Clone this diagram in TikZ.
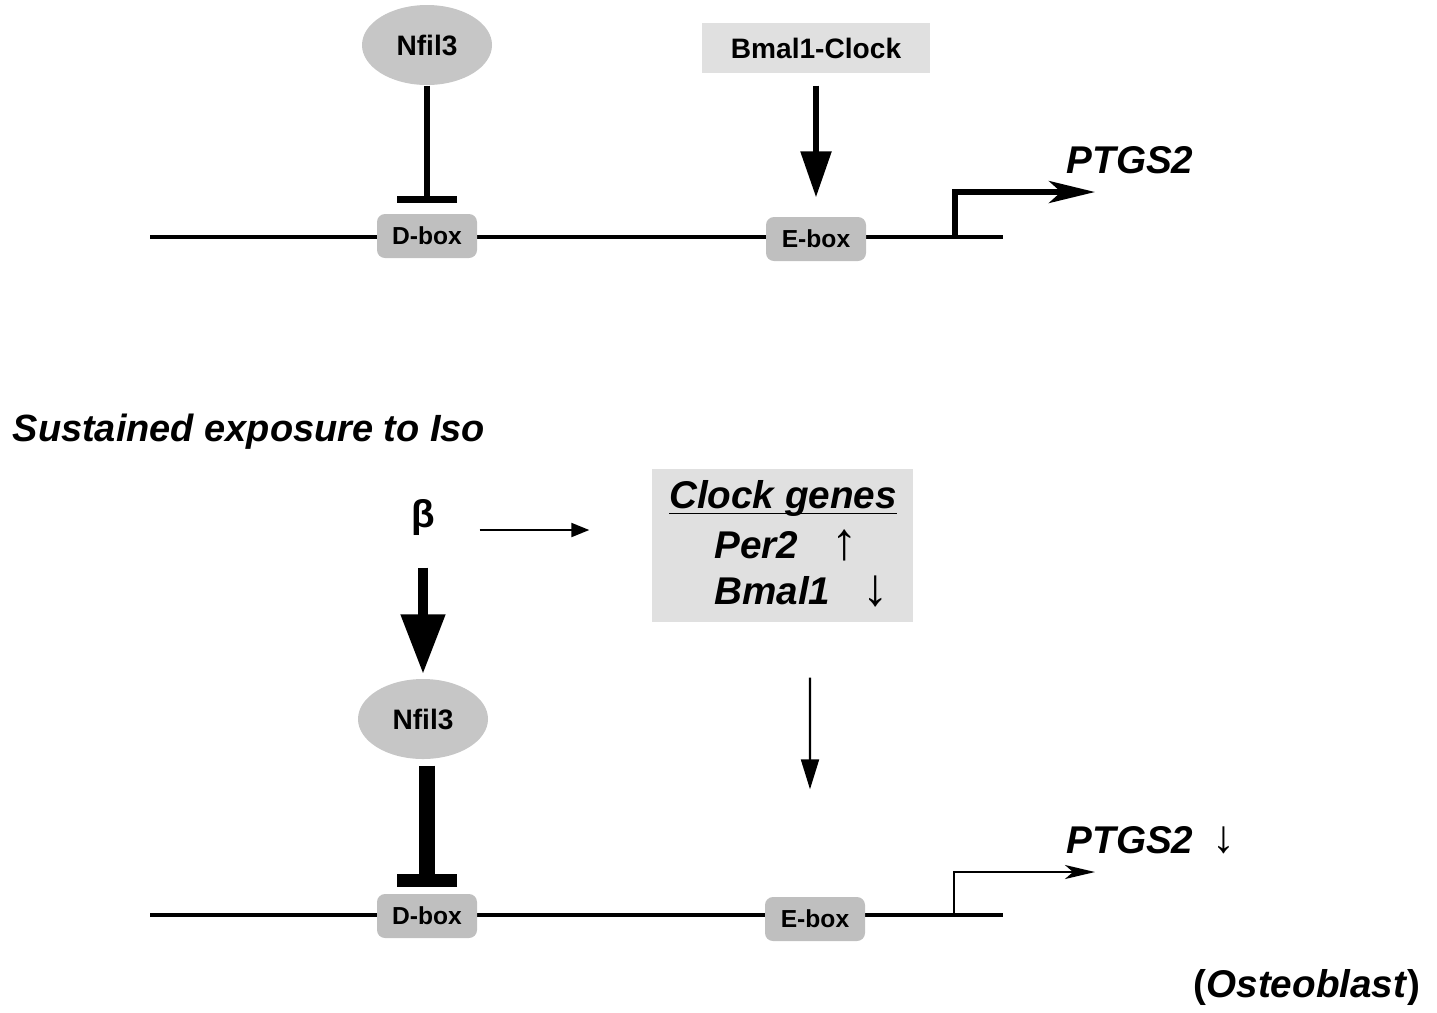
\documentclass[tikz,border=0pt]{standalone}
\usepackage{fontspec}
\setmainfont{Liberation Sans}
\usepackage{tikz}
\usetikzlibrary{arrows.meta,shapes.geometric,positioning}
\tikzset{>={Triangle[length=4.6mm,width=3mm]}}
\tikzset{factor node/.style={ellipse,fill=gray!45,minimum width=1.3cm,minimum height=.8cm,inner sep=0pt,font=\fontsize{8}{9}\selectfont\bfseries},
         site node/.style={rectangle,rounded corners=.8mm,fill=gray!50,minimum width=1cm,minimum height=.44cm,inner sep=0pt,font=\fontsize{7}{8}\selectfont\bfseries},
         shade box/.style={rectangle,fill=gray!24,inner sep=0pt},
         gene label/.style={font=\fontsize{11}{13}\selectfont\bfseries\itshape},
         change mark/.style={inner sep=0pt,font=\fontsize{15}{17}\selectfont},
         dna/.style={line width=1pt},
         }

\begin{document}
\begin{tikzpicture}

    \useasboundingbox (0,0) rectangle (14.37,-10.12);

    % top panel
    \coordinate (dnaa start) at (1.50,-2.37);
    \coordinate (dnaa end) at (10.03,-2.37);
    \coordinate (tssa) at (9.55,-2.37);
    \coordinate (tssa end) at (10.95,-1.92);
    \draw[dna] (dnaa start) -- (dnaa end);

    \node[factor node] (nfil3a) at (4.27,-0.45) {Nfil3};
    \node[shade box,minimum width=2.28cm,minimum height=.5cm,font=\fontsize{8}{9}\selectfont\bfseries] (bmal) at (8.16,-0.48) {Bmal1-Clock};
    \node[site node] (dboxa) at (4.27,-2.36) {D-box};
    \node[site node] (eboxa) at (8.16,-2.39) {E-box};
    \node[gene label] (ptgsa) at (11.30,-1.60) {PTGS2};

    \draw[line width=1.7pt,-{Bar[width=6mm,line width=2.1pt]},shorten >=1mm] (nfil3a) -- (dboxa);
    \draw[line width=1.6pt,->,shorten <=1.2mm,shorten >=1.9mm] (bmal) -- (eboxa);
    \draw[line width=1.6pt,-{Stealth[length=4.6mm,width=2.2mm,inset=1.2mm]}] (tssa) |- (tssa end);

    % bottom panel
    \coordinate (dnab start) at (1.50,-9.15);
    \coordinate (dnab end) at (10.03,-9.15);
    \coordinate (tssb) at (9.54,-9.15);
    \coordinate (tssb end) at (10.95,-8.72);
    \draw[dna] (dnab start) -- (dnab end);

    \node[gene label,anchor=west,inner sep=0pt,font=\fontsize{10.8}{13}\selectfont\bfseries\itshape] (iso) at (0.12,-4.32) {Sustained exposure to Iso};
    \node[inner sep=0pt,font=\fontsize{11}{13}\selectfont\bfseries] (beta) at (4.23,-5.17) {β};
    \node[shade box,minimum width=2.61cm,minimum height=1.53cm] (clock) at (7.825,-5.455) {};
    \node[gene label] (clockhd) at (7.83,-5.12) {\underline{\smash{Clock genes}}};
    \node[gene label,anchor=west] (per2) at (7.02,-5.45) {Per2};
    \node[gene label,anchor=west] (bmal1) at (7.02,-5.91) {Bmal1};
    \node[change mark] (per2up) at (8.45,-5.45) {↑};
    \node[change mark] (bmal1dn) at (8.76,-5.91) {↓};
    \node[factor node] (nfil3b) at (4.23,-7.19) {Nfil3};
    \node[site node] (dboxb) at (4.27,-9.16) {D-box};
    \node[site node] (eboxb) at (8.15,-9.19) {E-box};
    \node[gene label] (ptgsb) at (11.30,-8.40) {PTGS2};
    \node[change mark,font=\fontsize{13}{15}\selectfont,right=.06cm of ptgsb] (ptgsbdn) {↓};
    \node[font=\fontsize{11}{13}\selectfont\bfseries] (osteo) at (13.07,-9.87) {(\textit{Osteoblast})};

    \draw[line width=.6pt,-{Triangle[length=1.8mm,width=1.4mm]},shorten <=4.4mm,shorten >=6.2mm]
    ([yshift=-1.3mm]beta.east) -- ([yshift=-1.3mm]beta.east -| clock.west);
    \draw[line width=3.1pt,-{Triangle[length=6mm,width=4.2mm]},shorten <=3.2mm,shorten >=.4mm] (beta) -- (nfil3b);
    \draw[line width=4.3pt,-{Bar[width=6mm,line width=3.7pt]},shorten <=.6mm,shorten >=.6mm] (nfil3b.south -| dboxb) -- (dboxb);
    \draw[line width=.6pt,-{Triangle[length=3mm,width=1.8mm]},shorten <=5.5mm,shorten >=10.7mm] (clock.south -| eboxb.north) ++(-.05,0) -- ([xshift=-.5mm]eboxb.north);
    \draw[line width=.6pt,-{Stealth[length=3mm,width=1.4mm,inset=.8mm]}] (tssb) |- (tssb end);

\end{tikzpicture}
\end{document}
